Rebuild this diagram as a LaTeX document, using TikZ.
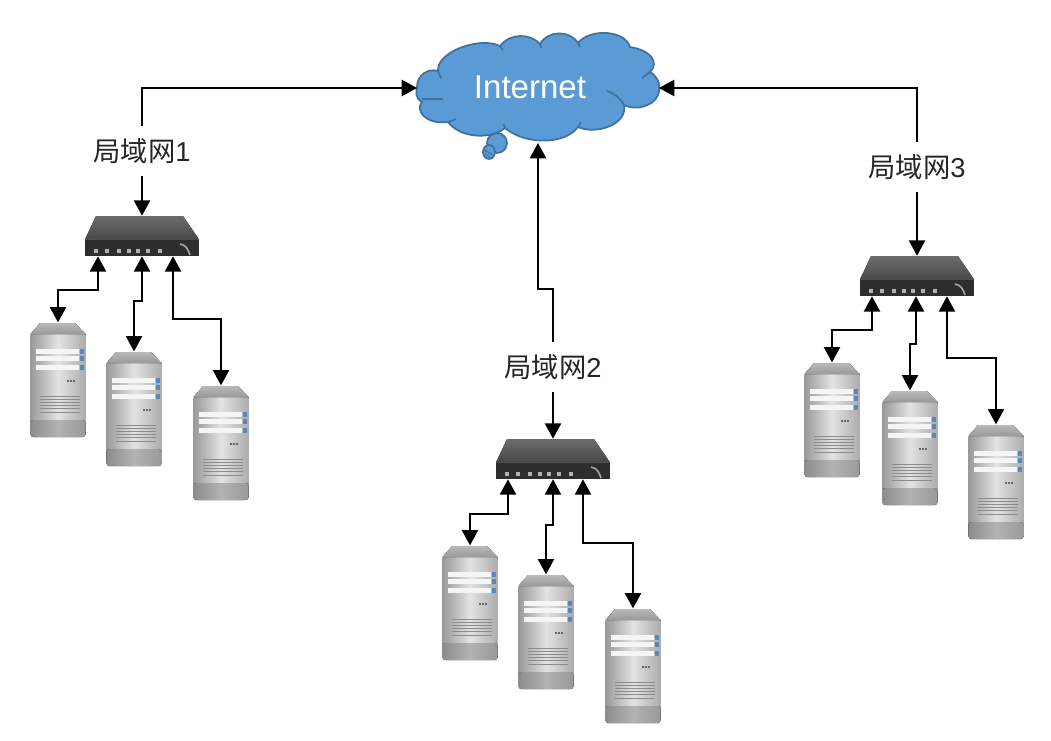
\documentclass[tikz,border=0pt]{standalone}
\usepackage{fontspec}
\setmainfont{Liberation Sans}
\newfontfamily\cjk{Noto Sans CJK SC}
\usetikzlibrary{arrows.meta,calc,positioning}
\definecolor{cloudblue}{HTML}{5B9BD5}
\definecolor{cloudline}{HTML}{41719C}
\definecolor{baytip}{HTML}{5A86BE}

\begin{document}
\begin{tikzpicture}[
    x=0.75pt, y=-0.75pt,
    link/.style={black, line width=1.7pt, -{Triangle[width=12pt,length=11.5pt]}},
    duplex/.style={black, line width=1.7pt, {Triangle[width=12pt,length=11.5pt]}-{Triangle[width=12pt,length=11.5pt]}},
    lan/.style={font=\fontsize{20.5pt}{24pt}\selectfont, text=black!85, inner sep=2pt, minimum height=37.5pt},
    cloudpart/.style={fill=cloudblue, draw=cloudline, line width=1.3pt},
    serverpic/.pic={
        % body, then top face and foot
        \fill[left color=gray!80, right color=gray!65, middle color=gray!22] (-27.5,-46) rectangle (27.5,54);
        \fill[left color=gray!90, right color=gray!80, middle color=gray!60, rounded corners=2pt] (-27.5,40) rectangle (27.5,57);
        \fill[top color=gray!55, bottom color=gray!80] (-18,-57) -- (17,-57) -- (27.5,-46) -- (-27.5,-46) -- cycle;
        % drive bays
        \foreach \bay in {-31,-24,-15} {
            \fill[white!92!gray] (-22,\bay) rectangle (21,\bay+5);
            \fill[baytip] (22,\bay) rectangle (26,\bay+5);
        }
        \foreach \led in {9,12,15} \fill[gray!80!black] (\led,0) rectangle (\led+2,2);
        \foreach \vent in {16,19.2,...,35} \draw[gray!90, line width=0.6pt] (-18,\vent) -- (22,\vent);
        \node[minimum width=41.25pt, minimum height=86pt, inner sep=0pt] (-box) at (0,0) {};
    },
    switchpic/.pic={
        \fill[top color=gray!85!black, bottom color=black!72] (-46,-20) -- (41,-20) -- (57,3.5) -- (-57,3.5) -- cycle;
        \fill[black!82] (-57,3.5) rectangle (57,20);
        \foreach \port in {-46,-35,-23,-13,-4,6,18} \fill[gray!60] (\port-2,13) rectangle (\port+2,17);
        \draw[gray!70, line width=1.2pt] (38,8) .. controls (44,9) and (46,13) .. (48,19);
        \node[minimum width=85pt, minimum height=30pt, inner sep=0pt] (-box) at (0,0) {};
    }
]
\useasboundingbox (0,0) rectangle (1051,740);
% cloud
\draw[cloudpart] (497,143) circle [radius=10];
\draw[cloudpart] (489,152) ellipse [x radius=6, y radius=7];
\draw[cloudline, line width=0.8pt] (484,150) -- (493,155) (485,154) -- (491,158);
\draw[cloudpart] (417,87) .. controls (417,75) and (428,68) .. (438,71)
    .. controls (436,52) and (480,36) .. (500,46)
    .. controls (510,33) and (530,33) .. (540,44)
    .. controls (548,30) and (570,30) .. (578,43)
    .. controls (590,28) and (625,30) .. (630,47)
    .. controls (650,50) and (660,62) .. (650,72)
    .. controls (664,80) and (662,100) .. (647,105)
    .. controls (640,109) and (630,108) .. (624,105)
    .. controls (628,125) and (595,135) .. (578,127)
    .. controls (565,145) and (525,145) .. (505,128)
    .. controls (490,140) and (460,138) .. (448,122)
    .. controls (425,125) and (415,110) .. (422,102)
    .. controls (415,98) and (416,92) .. cycle;
\draw[cloudline, line width=1.3pt] (650,72) -- (642,78) (624,105) .. controls (620,98) and (614,93) .. (607,91)
    (422,99) .. controls (428,99) and (436,99) .. (443,99) (448,122) -- (456,119) (438,71) -- (441,78)
    (500,46) -- (503,50) (540,44) -- (541,48) (578,43) -- (580,47) (505,128) -- (504,124) (578,127) -- (581,122);
\node[minimum width=181pt, minimum height=82pt, inner sep=0pt, text=white, font=\fontsize{24.8pt}{28pt}\selectfont] (internet) at (538,88) {\raisebox{2pt}{Internet}\kern12pt};
% labels
\node[lan] (lan1) at (142,151) {{\cjk 局域网}1};
\node[lan] (lan2) at (553,367) {{\cjk 局域网}2};
\node[lan] (lan3) at (917,167) {{\cjk 局域网}3};
% switches
\pic (sw1) at (142,236) {switchpic};
\pic (sw2) at (553,459) {switchpic};
\pic (sw3) at (917,276) {switchpic};
% servers
\pic (s11) at (58,380) {serverpic};
\pic (s12) at (134,409) {serverpic};
\pic (s13) at (221,443) {serverpic};
\pic (s21) at (470,603) {serverpic};
\pic (s22) at (546,632) {serverpic};
\pic (s23) at (633,666) {serverpic};
\pic (s31) at (832,420) {serverpic};
\pic (s32) at (910,448) {serverpic};
\pic (s33) at (996,482) {serverpic};
% links to the cloud
\draw[link] (lan1.north) |- (internet.west);
\draw[link] (lan3.north) |- (internet.east);
\draw[link] (lan2.north) -- ++(0,-53) -| (internet.south);
\draw[link] (lan1.south) -- (sw1-box.north);
\draw[link] (lan2.south) -- (sw2-box.north);
\draw[link] (lan3.south) -- (sw3-box.north);
% links to the servers
\draw[duplex] ($(sw1-box.south)+(-44,0)$) -- ++(0,34) -| (s11-box.north);
\draw[duplex] (sw1-box.south) -- ++(0,45) -| (s12-box.north);
\draw[duplex] ($(sw1-box.south)+(31,0)$) -- ++(0,63) -| (s13-box.north);
\draw[duplex] ($(sw2-box.south)+(-45,0)$) -- ++(0,35) -| (s21-box.north);
\draw[duplex] (sw2-box.south) -- ++(0,46) -| (s22-box.north);
\draw[duplex] ($(sw2-box.south)+(30,0)$) -- ++(0,64) -| (s23-box.north);
\draw[duplex] ($(sw3-box.south)+(-45,0)$) -- ++(0,34) -| (s31-box.north);
\draw[duplex] ($(sw3-box.south)+(-1,0)$) -- ++(0,48) -| (s32-box.north);
\draw[duplex] ($(sw3-box.south)+(30,0)$) -- ++(0,62) -| (s33-box.north);
\end{tikzpicture}
\end{document}
